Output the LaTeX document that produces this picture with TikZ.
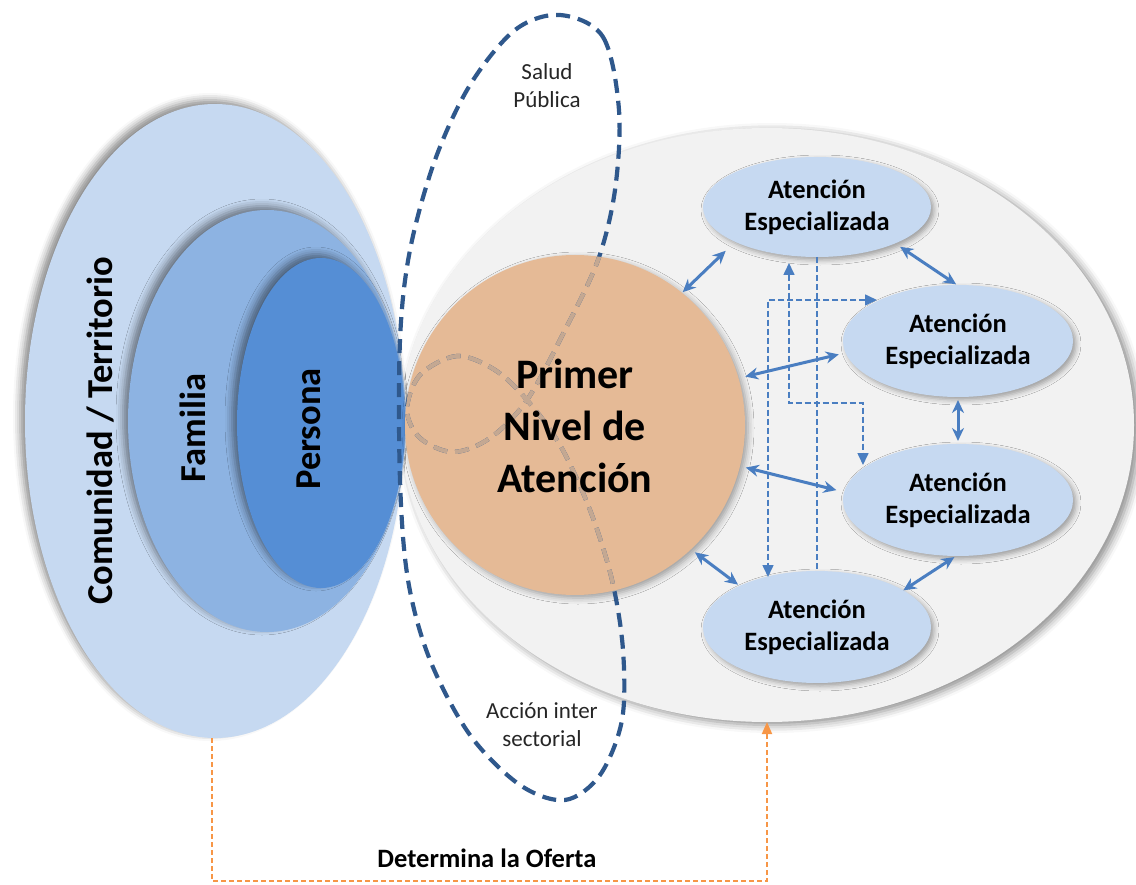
\documentclass[tikz,border=0pt]{standalone}
\usepackage{fontspec}
\setmainfont{Carlito}
\usetikzlibrary{shapes.geometric,arrows.meta,shadows.blur}
\definecolor{comC}{RGB}{198,217,241}
\definecolor{famC}{RGB}{141,179,226}
\definecolor{perC}{RGB}{85,142,213}
\definecolor{grayE}{RGB}{242,242,242}
\definecolor{pnaC}{RGB}{229,186,150}
\definecolor{aeC}{RGB}{198,217,241}
\definecolor{arrowC}{RGB}{74,126,193}
\definecolor{salC}{RGB}{47,88,140}
\definecolor{tanD}{RGB}{196,168,146}
\definecolor{orangeC}{RGB}{247,150,70}
\definecolor{txtC}{RGB}{38,38,38}
\tikzset{
  bigell/.style={ellipse, inner sep=0pt, outer sep=0pt, draw=none},
  aeell/.style={ellipse, inner sep=0pt, outer sep=0pt, fill=aeC, minimum width=228pt,
    align=center, font=\bfseries\fontsize{26.5}{32}\selectfont,
    blur shadow={shadow xshift=3pt, shadow yshift=-3pt, shadow blur radius=5pt, shadow opacity=35}},
  biarrow/.style={draw=arrowC, line width=3pt, {Stealth[length=13pt,width=12pt]}-{Stealth[length=13pt,width=12pt]}},
  dasharr/.style={draw=arrowC, line width=1.6pt, dash pattern=on 6pt off 3pt},
  saluddash/.style={line width=4.2pt, dash pattern=on 14pt off 8pt},
  lefttxt/.style={rotate=90, font=\bfseries\fontsize{36.5}{40}\selectfont},
  smalltxt/.style={align=center, text=txtC, font=\fontsize{23}{28}\selectfont},
}
\begin{document}
\begin{tikzpicture}[x=1pt,y=-1pt]
\useasboundingbox (0,0) rectangle (1136,885);

% big gray ellipse
\node[bigell, fill=grayE, minimum width=734pt, minimum height=594pt,
  blur shadow={shadow xshift=5pt, shadow yshift=-3pt, shadow blur radius=8pt, shadow opacity=45}] (gray) at (767,425) {};

% left nested ellipses
\node[bigell, fill=comC, minimum width=380pt, minimum height=634pt,
  blur shadow={shadow xshift=-5pt, shadow yshift=4pt, shadow blur radius=7pt, shadow opacity=45}] (com) at (215,421) {};
\node[bigell, fill=famC, minimum width=278pt, minimum height=422pt,
  blur shadow={shadow xshift=-5pt, shadow yshift=4pt, shadow blur radius=7pt, shadow opacity=45}] (fam) at (267,421) {};
\node[bigell, fill=perC, minimum width=168pt, minimum height=330pt,
  blur shadow={shadow xshift=-5pt, shadow yshift=4pt, shadow blur radius=7pt, shadow opacity=45}] (per) at (321,423) {};

\node[lefttxt] (comT) at (101,431) {Comunidad / Territorio};
\node[lefttxt] (famT) at (193,428) {Familia};
\node[lefttxt] (perT) at (309,429) {Persona};

% primer nivel circle
\node[circle, inner sep=0pt, outer sep=0pt, fill=pnaC, minimum size=340pt,
  blur shadow={shadow xshift=3pt, shadow yshift=-3pt, shadow blur radius=6pt, shadow opacity=35}] (pna) at (575,425) {};

% Salud Publica dashed loop
\draw[saluddash, draw=salC] plot[smooth cycle, tension=0.55] coordinates {
 (560,15) (603,37) (619,110) (615,190) (598,260) (565,330) (527,400) (490,438)
 (453,452) (420,438) (407,410) (420,375) (457,356) (495,370) (527,400) (560,445)
 (590,510) (612,580) (623,650) (622,720) (600,775) (565,800) (520,785) (470,735)
 (430,660) (408,580) (400,480) (400,340) (410,250) (435,160) (470,85) (515,30)};
\begin{scope}
\clip (575,425) circle (170);
\draw[saluddash, draw=tanD] plot[smooth cycle, tension=0.55] coordinates {
 (560,15) (603,37) (619,110) (615,190) (598,260) (565,330) (527,400) (490,438)
 (453,452) (420,438) (407,410) (420,375) (457,356) (495,370) (527,400) (560,445)
 (590,510) (612,580) (623,650) (622,720) (600,775) (565,800) (520,785) (470,735)
 (430,660) (408,580) (400,480) (400,340) (410,250) (435,160) (470,85) (515,30)};
\end{scope}

\node[align=center, font=\bfseries\fontsize{42}{52}\selectfont] (pnaT) at (575,426) {Primer\\Nivel de\\Atención};

\node[smalltxt] (salud) at (547,86) {Salud\\Pública};
\node[smalltxt] (accion) at (542,725) {Acción inter\\sectorial};

% Atencion especializada
\node[aeell, minimum height=100pt] (ae1) at (817,207) {Atención\\Especializada};
\node[aeell, minimum height=112pt, minimum width=230pt] (ae2) at (958,341) {Atención\\Especializada};
\node[aeell, minimum height=112pt, minimum width=230pt] (ae3) at (958,500) {Atención\\Especializada};
\node[aeell, minimum height=112pt] (ae4) at (817,627) {Atención\\Especializada};

% solid double arrows
\draw[biarrow, shorten <=1pt, shorten >=13pt] (pna.51) -- (ae1.203);
\draw[biarrow, shorten <=7pt, shorten >=7pt] (pna.16) -- (ae2.186);
\draw[biarrow, shorten <=6pt, shorten >=8pt] (pna.346) -- (ae3.176);
\draw[biarrow, shorten <=5pt, shorten >=2pt] (pna.313) -- (ae4.152);
\draw[biarrow, shorten <=6pt, shorten >=1pt] (ae1.335) -- (ae2.91);
\draw[biarrow, shorten <=3pt, shorten >=3pt] (ae2.270) -- (ae3.90);
\draw[biarrow, shorten <=2pt, shorten >=0pt] (ae3.268) -- (ae4.23);

% dashed connectors
\draw[dasharr] (ae1.south) -- (ae4.north);
\draw[dasharr, {Triangle[length=12pt,width=11pt]}-{Triangle[length=12pt,width=11pt]}]
  ([shift={(-28,6)}]ae1.south) -- ++(0,140) -| ([shift={(-95,-35)}]ae3.center);
\draw[dasharr, {Triangle[length=12pt,width=11pt]}-{Triangle[length=12pt,width=11pt]}]
  ([shift={(-81,-41)}]ae2.center) -| ([shift={(-49,-50)}]ae4.center);

% orange determina la oferta
\draw[draw=orangeC, line width=1.8pt, dash pattern=on 5pt off 3pt, -{Triangle[length=12pt,width=10pt]}]
  ([xshift=-3pt]com.south) -- ++(0,143) -| (gray.south);
\node[font=\bfseries\fontsize{26.5}{30}\selectfont] (oferta) at (487,858) {Determina la Oferta};
\end{tikzpicture}
\end{document}
